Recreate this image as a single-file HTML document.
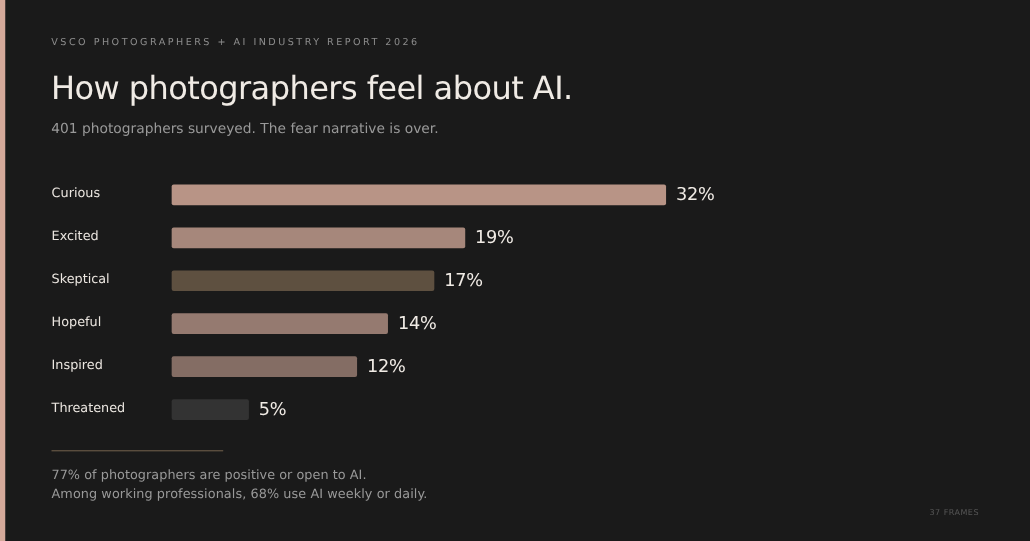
<!DOCTYPE html>
<html lang="en">
<head>
<meta charset="utf-8">
<title>How photographers feel about AI</title>
<style>
*{box-sizing:border-box;margin:0;padding:0}
html,body{width:1030px;height:541px;overflow:hidden;background:#1a1a1a}
body{font-family:"DejaVu Sans","Liberation Sans",sans-serif;color:#f0ebe5;position:relative;text-rendering:geometricPrecision}
svg.shapes{position:absolute;left:0;top:0;width:1030px;height:541px;display:block}
.t{position:absolute;white-space:nowrap;font-weight:400}
.eyebrow{left:51.3px;top:36px;font-size:9.6px;line-height:14px;letter-spacing:2.48px;color:#8c8c8c}
h1{left:50.9px;top:68px;font-size:32px;line-height:40px;letter-spacing:-0.55px;color:#f0ebe5}
.sub{left:51.3px;top:120px;font-size:13.8px;line-height:18px;color:#999}
.label{left:51.6px;font-size:12.8px;line-height:18px;color:#ebe6e0}
.val{font-size:17.7px;line-height:22px;letter-spacing:-0.26px;color:#f0ebe5}
.foot{left:51.5px;font-size:12.8px;line-height:19px;letter-spacing:0.045px;color:#999}
.frames{right:51px;top:507px;font-size:8px;line-height:12px;letter-spacing:0.5px;color:#565656}
</style>
</head>
<body>
<svg class="shapes" viewBox="0 0 1030 541" aria-hidden="true">
  <rect x="0" y="0" width="5.25" height="541" fill="#d4a99a"/>
  <rect x="171.67" y="184.5" width="494.4" height="20.7" rx="2" fill="#b89486"/>
  <rect x="171.67" y="227.44" width="293.55" height="20.7" rx="2" fill="#a6877b"/>
  <rect x="171.67" y="270.38" width="262.65" height="20.7" rx="2" fill="#5e5040"/>
  <rect x="171.67" y="313.32" width="216.3" height="20.7" rx="2" fill="#957a70"/>
  <rect x="171.67" y="356.26" width="185.4" height="20.7" rx="2" fill="#846d64"/>
  <rect x="171.67" y="399.2" width="77.25" height="20.7" rx="2" fill="#333333"/>
  <rect x="51.5" y="450.05" width="171.7" height="1.35" fill="#5e5040"/>
</svg>
<div class="t eyebrow">VSCO PHOTOGRAPHERS + AI INDUSTRY REPORT 2026</div>
<h1 class="t">How photographers feel about AI.</h1>
<p class="t sub">401 photographers surveyed. The fear narrative is over.</p>

<span class="t label" style="top:185px">Curious</span>
<span class="t label" style="top:228px">Excited</span>
<span class="t label" style="top:271px">Skeptical</span>
<span class="t label" style="top:314px">Hopeful</span>
<span class="t label" style="top:357px">Inspired</span>
<span class="t label" style="top:400px">Threatened</span>

<span class="t val" style="left:676px;top:184px">32%</span>
<span class="t val" style="left:475.1px;top:227px">19%</span>
<span class="t val" style="left:444.2px;top:270px">17%</span>
<span class="t val" style="left:397.9px;top:313px">14%</span>
<span class="t val" style="left:367px;top:356px">12%</span>
<span class="t val" style="left:258.8px;top:399px">5%</span>

<p class="t foot" style="top:466px">77% of photographers are positive or open to AI.</p>
<p class="t foot" style="top:485px;letter-spacing:0.085px">Among working professionals, 68% use AI weekly or daily.</p>
<div class="t frames">37 FRAMES</div>
</body>
</html>
